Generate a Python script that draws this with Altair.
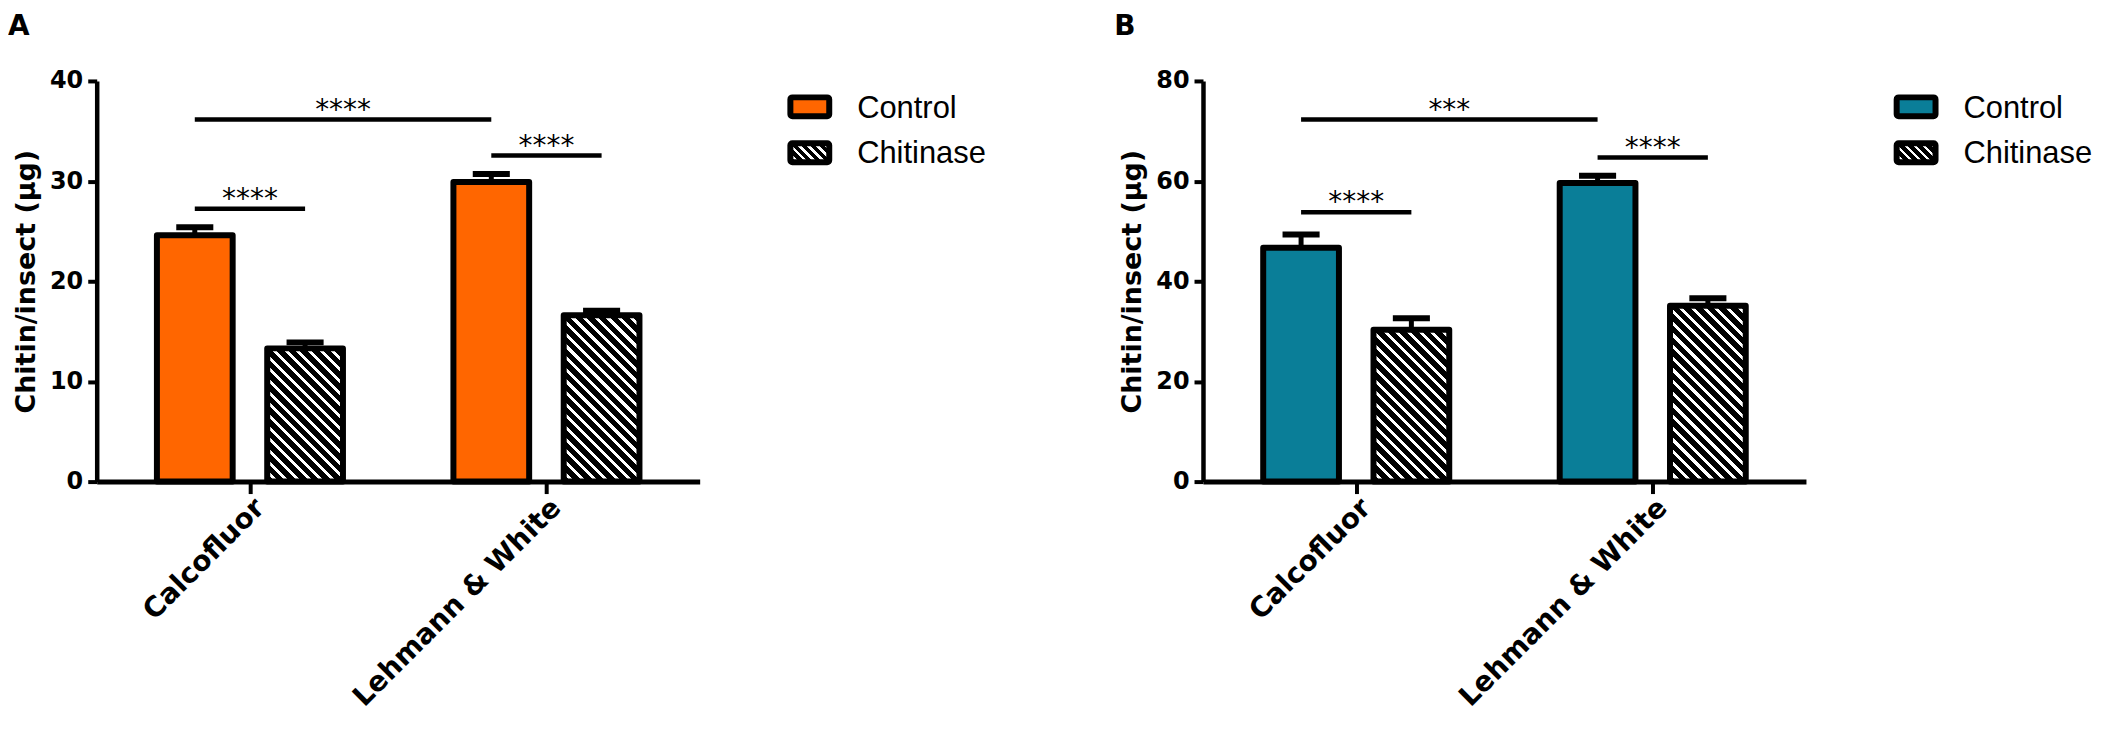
import altair as alt
import pandas as pd

# ---------------- data ----------------
categories = ["Calcofluor", "Lehmann & White"]
treatments = ["Control", "Chitinase"]
panel_letters = ["A", "B"]

a_mean_control = [24.6, 29.9]
a_sem_control = [0.8, 0.8]
a_mean_chitinase = [13.3, 16.6]
a_sem_chitinase = [0.6, 0.45]

b_mean_control = [46.7, 59.6]
b_sem_control = [2.65, 1.45]
b_mean_chitinase = [30.3, 35.1]
b_sem_chitinase = [2.3, 1.5]

# significance brackets: from bar -> to bar, height, label
sig_from = ["Calcofluor|Control", "Lehmann & White|Control", "Calcofluor|Control"]
sig_to = ["Calcofluor|Chitinase", "Lehmann & White|Chitinase", "Lehmann & White|Control"]
a_sig_y = [27.25, 32.55, 36.15]
a_sig_text = ["****", "****", "****"]
b_sig_y = [53.8, 64.7, 72.3]
b_sig_text = ["****", "****", "***"]

a_ymax, a_ticks = 40, [0, 10, 20, 30, 40]
b_ymax, b_ticks = 80, [0, 20, 40, 60, 80]

y_title = "Chitin/insect (µg)"
a_fill = "#FF6600"
b_fill = "#0A7E98"

# ---------------- layout / style ----------------
W, H = 605, 402
BAR_W = 76
OFF = 0.186
CAP_HALF = 0.0625
STRIPE = 11.7
WHITE_FRAC = 0.35
BOLD = "DejaVu Sans"


def hatch(w, h, period, white_frac=WHITE_FRAC):
    """Linear gradient giving 45-degree '\\' white stripes on black."""
    lam = (w + h) * w / (w * w + h * h)
    T = period / (w + h)
    stops = []
    k = 0
    while k * T < 1:
        a = k * T
        b = min(1.0, a + (1 - white_frac) * T)
        c = min(1.0, (k + 1) * T)
        stops += [
            {"offset": round(a, 6), "color": "black"},
            {"offset": round(b, 6), "color": "black"},
            {"offset": round(b, 6), "color": "white"},
            {"offset": round(c, 6), "color": "white"},
        ]
        k += 1
    return {
        "gradient": "linear",
        "x1": 0, "y1": 1,
        "x2": round(lam, 6), "y2": round(1 - lam * h / w, 6),
        "stops": stops,
    }


def bar_table(cm, cs, km, ks):
    rows = []
    for gi, cat in enumerate(categories):
        for trt, m, s, off in ((treatments[0], cm[gi], cs[gi], -OFF),
                               (treatments[1], km[gi], ks[gi], OFF)):
            rows.append({"key": f"{cat}|{trt}", "cat": cat, "trt": trt,
                         "mean": m, "sem": s, "pos": gi + off, "top": m + s})
    return pd.DataFrame(rows)


label_expr = " : ".join(
    [f"datum.value == {i} ? '{c}'" for i, c in enumerate(categories[:-1])]
    + [f"'{categories[-1]}'"]
)


def panel(letter, cm, cs, km, ks, ymax, yticks, fill, sig_y, sig_text):
    df = bar_table(cm, cs, km, ks)
    pos = dict(zip(df["key"], df["pos"]))

    xs = alt.Scale(domain=[-0.5, 1.5], nice=False, zero=False)
    ys = alt.Scale(domain=[0, ymax], nice=False)
    xaxis = alt.Axis(values=[0, 1], labelExpr=label_expr, title=None, grid=False,
                     tickSize=12, tickWidth=4, tickColor="black",
                     domainColor="black", domainWidth=5,
                     labelAngle=-45, labelAlign="right", labelBaseline="top",
                     labelFont=BOLD, labelFontWeight="bold", labelFontSize=28,
                     labelColor="black", labelPadding=0, labelOverlap=False,
                     labelFlush=False, labelLimit=0)
    yaxis = alt.Axis(values=yticks, title=y_title, grid=False,
                     tickSize=9, tickWidth=4, tickColor="black",
                     domainColor="black", domainWidth=4.5,
                     labelFont=BOLD, labelFontWeight="bold", labelFontSize=24,
                     labelColor="black", labelPadding=5, labelFlush=False,
                     titleFont=BOLD, titleFontWeight="bold", titleFontSize=27,
                     titleColor="black", titlePadding=9)

    def X(f):
        return alt.X(f, type="quantitative", scale=xs, axis=xaxis)

    def Y(f):
        return alt.Y(f, type="quantitative", scale=ys, axis=yaxis)

    base = alt.Chart(df)
    stems = base.mark_rule(color="black", strokeWidth=5).encode(
        x=X("pos"), y=Y("mean"), y2="top:Q")
    caps = base.transform_calculate(
        xl=f"datum.pos - {CAP_HALF}", xr=f"datum.pos + {CAP_HALF}"
    ).mark_rule(color="black", strokeWidth=6).encode(
        x=X("xl"), x2="xr:Q", y=Y("top"))
    ctrl = base.transform_filter(alt.datum.trt == treatments[0]).mark_bar(
        size=BAR_W, fill=fill, stroke="black", strokeWidth=6,
        strokeJoin="round", orient="vertical"
    ).encode(x=X("pos"), y=Y("mean"))

    hatched = []
    for gi, cat in enumerate(categories):
        h = km[gi] / ymax * H
        hatched.append(
            base.transform_filter(alt.datum.key == f"{cat}|{treatments[1]}").mark_bar(
                size=BAR_W, fill=hatch(BAR_W, h, STRIPE), stroke="black",
                strokeWidth=6, strokeJoin="round", orient="vertical"
            ).encode(x=X("pos"), y=Y("mean"))
        )

    sig_df = pd.DataFrame({
        "x1": [pos[k] for k in sig_from],
        "x2": [pos[k] for k in sig_to],
        "y": sig_y,
        "label": sig_text,
    })
    sig_rule = alt.Chart(sig_df).mark_rule(color="black", strokeWidth=4.5).encode(
        x=X("x1"), x2="x2:Q", y=Y("y"))
    sig_txt = alt.Chart(sig_df).transform_calculate(
        xm="(datum.x1 + datum.x2) / 2"
    ).mark_text(font="DejaVu Sans", fontSize=28, align="center",
                baseline="alphabetic", dy=-1, color="black").encode(
        x=X("xm"), y=Y("y"), text="label:N")

    # legend (drawn to the right of the plot area)
    leg_x0, leg_x1, leg_h, leg_tx = 696, 735, 19, 763
    leg_y0 = [16.5, 62.5]
    leg_base = [37, 82.7]
    legend = []
    for i, trt in enumerate(treatments):
        ldf = pd.DataFrame({"label": [trt]})
        lfill = fill if i == 0 else hatch(leg_x1 - leg_x0, leg_h, 9)
        legend.append(alt.Chart(ldf).mark_rect(
            fill=lfill, stroke="black", strokeWidth=6, strokeJoin="round",
            cornerRadius=2
        ).encode(x=alt.value(leg_x0), x2=alt.value(leg_x1),
                 y=alt.value(leg_y0[i]), y2=alt.value(leg_y0[i] + leg_h)))
        legend.append(alt.Chart(ldf).mark_text(
            font="Liberation Sans", fontSize=31, align="left",
            baseline="alphabetic", color="black"
        ).encode(x=alt.value(leg_tx), y=alt.value(leg_base[i]), text="label:N"))

    title = alt.Chart(pd.DataFrame({"label": [letter]})).mark_text(
        font=BOLD, fontWeight="bold", fontSize=28, align="left",
        baseline="alphabetic", color="black"
    ).encode(x=alt.value(-89), y=alt.value(-46), text="label:N")

    return alt.layer(stems, caps, ctrl, *hatched, sig_rule, sig_txt,
                     *legend, title).properties(width=W, height=H)


pa = panel(panel_letters[0], a_mean_control, a_sem_control, a_mean_chitinase,
           a_sem_chitinase, a_ymax, a_ticks, a_fill, a_sig_y, a_sig_text)
pb = panel(panel_letters[1], b_mean_control, b_sem_control, b_mean_chitinase,
           b_sem_chitinase, b_ymax, b_ticks, b_fill, b_sig_y, b_sig_text)

chart = alt.hconcat(
    pa, pb, spacing=128,
    padding={"top": 4, "left": 0, "right": 0, "bottom": 0},
    background="white",
).configure_view(strokeWidth=0)

chart.save("out.html", embed_options={"renderer": "svg", "actions": False})
